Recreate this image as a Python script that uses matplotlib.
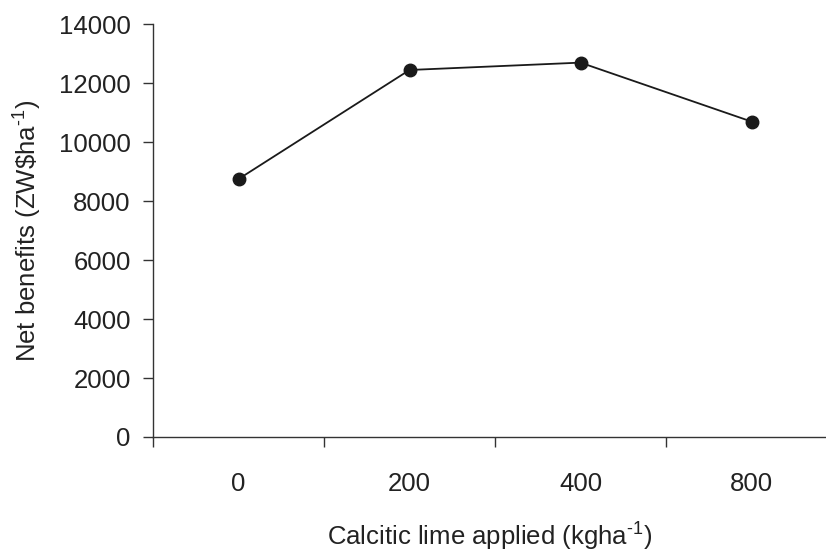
import matplotlib
matplotlib.use("Agg")
import matplotlib.pyplot as plt
import numpy as np

plt.rcParams['font.family'] = ['Liberation Sans', 'DejaVu Sans']
plt.rcParams['mathtext.fontset'] = 'custom'
plt.rcParams['mathtext.rm'] = 'Liberation Sans'
plt.rcParams['mathtext.default'] = 'regular'

# data
lime_rates = ['0', '200', '400', '800']
net_benefits = [8750, 12450, 12700, 10700]

fig = plt.figure(figsize=(8.26, 5.52), dpi=100)
ax = fig.add_axes([153 / 826, 1 - 437 / 552, 1 - 153 / 826, (437 - 24.3) / 552])

x = np.arange(len(lime_rates))
ax.plot(x, net_benefits, color='#1a1a1a', lw=1.3, marker='o', ms=9,
        mfc='#1a1a1a', mec='#1a1a1a', clip_on=False)

ax.set_ylim(0, 14000)
ax.set_yticks(np.arange(0, 14001, 2000))
ax.set_xlim(-0.5, 3.5 - 11 / 171)

# category labels at centres, tick marks between categories
ax.set_xticks(x)
ax.set_xticklabels(lime_rates)
ax.set_xticks(np.arange(-0.5, 3.0, 1.0), minor=True)
ax.tick_params(axis='x', which='major', length=0, pad=25, labelsize=18.5, colors='#222222')
ax.tick_params(axis='x', which='minor', length=7, width=1, color='#333333')
ax.tick_params(axis='y', length=7, width=1, pad=9, labelsize=18.5, color='#333333',
               labelcolor='#222222')

for side in ['top', 'right']:
    ax.spines[side].set_visible(False)
for side in ['left', 'bottom']:
    ax.spines[side].set_color('#333333')
    ax.spines[side].set_linewidth(1)

ax.set_xlabel('Calcitic lime applied (kgha$^{\u20101}$)', fontsize=18.5, color='#222222', labelpad=18)
ax.set_ylabel('Net benefits (ZW\\$ha$^{\u20101}$)', fontsize=18.5, color='#222222', labelpad=11)

fig.savefig('out.png', dpi=100)
